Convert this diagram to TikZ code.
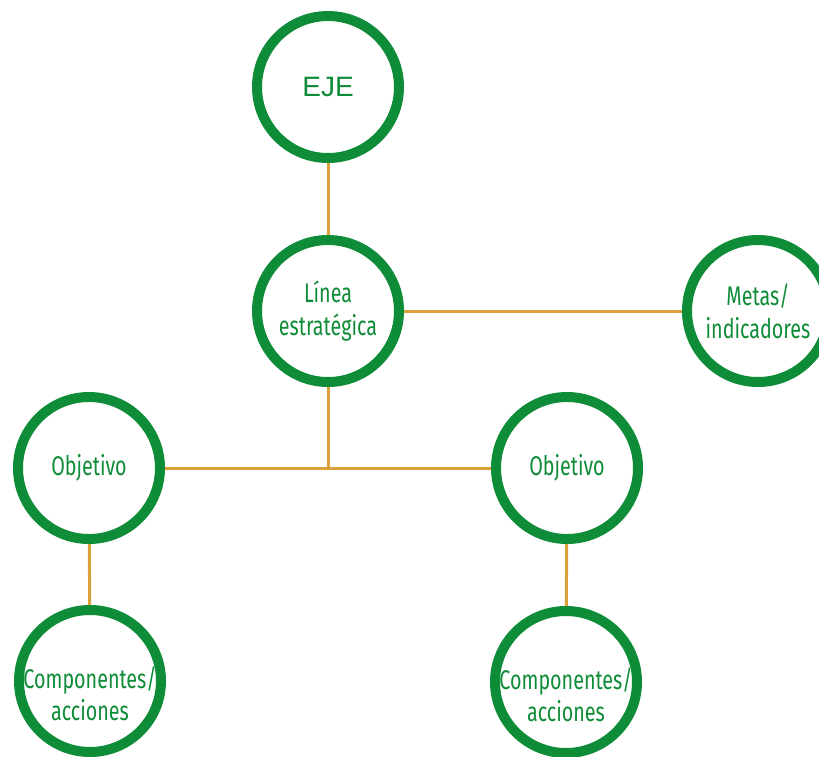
\documentclass[tikz,border=0pt]{standalone}
\usepackage{fontspec}
\setmainfont{Liberation Sans}
\newfontfamily\condfont[FakeStretch=0.73]{Fira Sans}
\definecolor{ringgreen}{RGB}{14,140,55}
\definecolor{linkorange}{RGB}{218,160,58}
\begin{document}
\begin{tikzpicture}[x=1pt,y=1pt,
  ring/.style={circle,draw=ringgreen,line width=10pt,minimum size=142pt,inner sep=0pt,
    text=ringgreen,align=center,font=\condfont\fontsize{27}{33}\selectfont,fill=white},
  ringlabel/.style={text=ringgreen,align=center,font=\condfont\fontsize{27}{32}\selectfont,yshift=-13pt},
  link/.style={draw=linkorange,line width=3pt}]
\useasboundingbox (0,0) rectangle (819,-756);
\node[ring,font=\fontsize{28}{33}\selectfont] (eje) at (328,-87) {EJE};
\node[ring] (lin) at (328,-311) {Línea\\estratégica};
\node[ring] (met) at (758,-311) {Metas/\\indicadores};
\node[ring] (oL) at (89,-468) {Objetivo};
\node[ring] (oR) at (567,-468) {Objetivo};
\node[ring,label={[ringlabel]center:Componentes/\\acciones}] (cL) at (90,-681) {};
\node[ring,label={[ringlabel]center:Componentes/\\acciones}] (cR) at (566,-682) {};
\coordinate (j) at (328,-468);
\draw[link] (eje) -- (lin);
\draw[link] (lin) -- (met);
\draw[link] (lin) -- (j);
\draw[link] (oL) -- (oR);
\draw[link] (oL) -- (cL);
\draw[link] (oR) -- (cR);
\end{tikzpicture}
\end{document}
